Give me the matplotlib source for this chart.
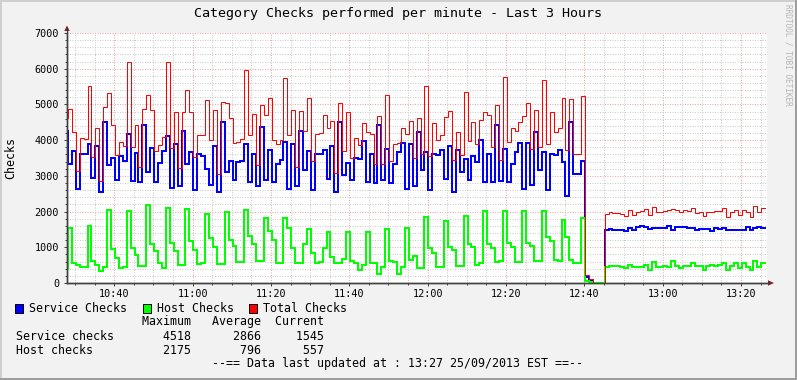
import matplotlib
matplotlib.use("Agg")
import matplotlib.pyplot as plt
from matplotlib.patches import Rectangle, Polygon
import numpy as np

# ---------------- data (one value per minute) ----------------
service_checks = [
    4247, 3332, 3687, 2632, 3612, 3600, 3900, 2940, 3827, 2539,
    4518, 3295, 3500, 2893, 3547, 3407, 4172, 2865, 3640, 2819,
    4433, 3099, 3780, 2819, 3360, 3687, 4107, 2660, 3892, 2725,
    4265, 3332, 3659, 2613, 3612, 3565, 3201, 2740, 3845, 2539,
    4499, 3099, 3425, 2893, 3380, 3407, 3900, 2828, 3612, 2706,
    4360, 2893, 3733, 2828, 3332, 3440, 3939, 2632, 3901, 2725,
    4265, 3173, 3687, 2595, 3612, 3612, 3733, 2912, 3827, 2539,
    4508, 3030, 3360, 2893, 3500, 3470, 3985, 2828, 3612, 2800,
    4433, 2893, 3761, 2800, 3332, 3668, 3920, 2641, 3892, 2725,
    4228, 3173, 3668, 2613, 3612, 3593, 3733, 2921, 3827, 2539,
    3733, 3099, 3480, 2893, 3547, 3388, 4013, 2828, 3612, 2828,
    4433, 2847, 3761, 2828, 3332, 3668, 3920, 2641, 3920, 2735,
    4228, 3173, 3659, 2613, 3612, 3575, 3733, 3400, 2433, 4500,
    3040, 3060, 3407, 170, 90, 0, 0, 0,
    1493, 1520, 1493, 1493, 1493, 1447, 1540, 1475, 1560, 1587,
    1568, 1520, 1540, 1540, 1540, 1540, 1605, 1475, 1568, 1568,
    1568, 1540, 1540, 1493, 1512, 1512, 1512, 1465, 1540, 1512,
    1540, 1493, 1493, 1493, 1493, 1493, 1560, 1493, 1540, 1560,
    1545,
]
host_checks = [
    400, 1550, 560, 513, 440, 440, 1605, 607, 513, 345,
    440, 2053, 950, 700, 420, 440, 2025, 980, 793, 467,
    467, 2175, 1092, 905, 560, 420, 2100, 1120, 905, 513,
    513, 2072, 1167, 933, 541, 560, 1941, 1260, 1008, 541,
    541, 1979, 1213, 1027, 578, 578, 2053, 1325, 1092, 607,
    607, 1820, 1447, 1213, 560, 560, 1820, 1540, 980, 560,
    560, 1092, 1512, 840, 560, 600, 980, 1428, 719, 560,
    560, 672, 1428, 607, 560, 373, 495, 1419, 560, 560,
    252, 448, 1521, 625, 588, 252, 448, 1540, 653, 765,
    420, 420, 1848, 980, 840, 439, 439, 1745, 999, 933,
    485, 485, 1885, 1092, 999, 513, 560, 2007, 1092, 980,
    578, 607, 2025, 1120, 1008, 578, 578, 2025, 1120, 1027,
    625, 625, 2025, 1279, 1167, 653, 607, 1773, 1300, 650,
    560, 560, 1820, 60, 30, 0, 0, 0,
    448, 467, 467, 467, 448, 420, 495, 439, 439, 439,
    495, 373, 578, 448, 448, 485, 439, 607, 467, 420,
    485, 485, 560, 467, 485, 355, 485, 513, 485, 513,
    560, 355, 485, 560, 420, 560, 439, 355, 625, 439,
    557,
]
total_checks = [
    4620, 4872, 4230, 3127, 4060, 4030, 5505, 3520, 4340, 2850,
    4930, 5320, 4420, 3580, 3940, 3830, 6180, 3820, 4410, 3260,
    4880, 5250, 4850, 3690, 3870, 4080, 6190, 3780, 4790, 3230,
    4778, 5410, 4800, 3530, 4140, 4150, 5130, 4000, 4830, 3060,
    5060, 5050, 4630, 3910, 3960, 4020, 5950, 4140, 4720, 3313,
    4970, 4690, 5180, 4010, 3880, 4000, 5740, 4150, 4850, 3260,
    4825, 4265, 5180, 3430, 4160, 4200, 4700, 4340, 4540, 3070,
    5050, 3700, 4790, 3510, 4070, 3850, 4480, 4220, 4172, 3340,
    4680, 3341, 5250, 3410, 3900, 3920, 4340, 4181, 4545, 3490,
    4620, 3620, 5516, 3570, 4470, 4010, 4150, 4650, 4820, 3440,
    4218, 3584, 5340, 3980, 4520, 3900, 4573, 4800, 4704, 3808,
    4980, 3454, 5770, 3948, 4340, 4246, 4498, 4666, 5040, 3762,
    4853, 3798, 5684, 3892, 4779, 4228, 4340, 5173, 3733, 5150,
    3600, 3620, 5227, 230, 120, 0, 0, 0,
    1941, 1987, 1960, 1960, 1941, 1867, 2035, 1914, 1999, 2026,
    2063, 1893, 2118, 1988, 1988, 2025, 2044, 2082, 2035, 1988,
    2053, 2025, 2100, 1960, 1997, 1867, 1997, 1978, 2025, 2025,
    2100, 1848, 1978, 2053, 1913, 2053, 1999, 1848, 2165, 1999,
    2102,
]

x_tick_labels = ["10:40", "11:00", "11:20", "11:40", "12:00",
                 "12:20", "12:40", "13:00", "13:20"]
y_tick_values = [0, 1000, 2000, 3000, 4000, 5000, 6000, 7000]
y_tick_labels = ["0", "1000", "2000", "3000", "4000", "5000", "6000", "7000"]

title = "Category Checks performed per minute - Last 3 Hours"
y_label = "Checks"
legend_names = ["Service Checks", "Host Checks", "Total Checks"]
stat_headers = ["Maximum", "Average", "Current"]
stat_rows = ["Service checks", "Host checks"]
service_stats = [4518, 2866, 1545]
host_stats = [2175, 796, 557]
footer = "--== Data last updated at : 13:27 25/09/2013 EST ==--"
watermark = "RRDTOOL / TOBI OETIKER"

# ---------------- style ----------------
plt.rcParams['font.family'] = ['DejaVu Sans Mono']
BG = "#F2F2F2"
C_SERVICE, C_HOST, C_TOTAL = "#0000FF", "#00FF00", "#FF0000"
GRID_C = "#CBCBCB"
MGRID_C = "#EDA5A5"
AXIS_C = "#404040"
ARROW_C = "#801F1F"

W, H, DPI = 797, 380, 100
fig = plt.figure(figsize=(W / DPI, H / DPI), dpi=DPI, facecolor=BG)

L, R, T, B = 67, 767, 33, 283
ax = fig.add_axes([L / W, 1 - B / H, (R - L) / W, (B - T) / H])
ax.set_facecolor("white")

# time axis in minutes after 10:00
t_first = 27 + 11 / 60          # start of first sample step
x_start = 27 + 56 / 60          # left edge of graph
x_end = x_start + 178.7         # right edge of graph
n = len(service_checks)
t = t_first + np.arange(n + 1)


def steps(v):
    return list(v) + [v[-1]]


px = 0.72  # one pixel in points
ax.plot(t, steps(service_checks), drawstyle="steps-post", color=C_SERVICE,
        lw=2 * px, solid_joinstyle="miter", zorder=3)
ax.plot(t, steps(host_checks), drawstyle="steps-post", color=C_HOST,
        lw=2 * px, solid_joinstyle="miter", zorder=3)
ax.plot(t, steps(total_checks), drawstyle="steps-post", color=C_TOTAL,
        lw=1 * px, solid_joinstyle="miter", zorder=4)

ax.set_xlim(x_start, x_end)
ax.set_ylim(0, 7000)

major_x = [int(s[:2]) * 60 + int(s[3:]) - 600 for s in x_tick_labels]
minor_x = np.arange(30, x_end, 5)
ax.set_xticks(major_x)
ax.set_xticklabels(x_tick_labels)
ax.set_xticks(minor_x, minor=True)
ax.set_yticks(y_tick_values)
ax.set_yticklabels(y_tick_labels)
ax.set_yticks(np.arange(0, 7001, 200), minor=True)

ax.set_axisbelow(True)
ax.grid(which="minor", color=GRID_C, linestyle=(0, (1, 1.5)), linewidth=px)
ax.grid(which="major", color=MGRID_C, linestyle=(0, (1, 1.5)), linewidth=px)

for s in ["top", "right"]:
    ax.spines[s].set_visible(False)
for s in ["left", "bottom"]:
    ax.spines[s].set_color(AXIS_C)
    ax.spines[s].set_linewidth(1.0)

ax.tick_params(which="major", length=2.2, width=px, color=AXIS_C,
               labelsize=7.3, direction="out")
ax.tick_params(which="minor", length=1.5, width=px, color=AXIS_C,
               direction="out")
ax.tick_params(axis="y", pad=3.5)
ax.tick_params(axis="x", pad=2.0)

# ---------------- overlay in pixel coordinates ----------------
ov = fig.add_axes([0, 0, 1, 1], zorder=10)
ov.set_xlim(0, W)
ov.set_ylim(H, 0)
ov.axis("off")
ov.patch.set_alpha(0)

# 3D shade border
ov.add_patch(Rectangle((0, 0), W, 2, color="#CFCFCF", lw=0))
ov.add_patch(Rectangle((0, 0), 2, H, color="#CFCFCF", lw=0))
ov.add_patch(Rectangle((0, H - 2), W, 2, color="#9E9E9E", lw=0))
ov.add_patch(Rectangle((W - 2, 0), 2, H, color="#9E9E9E", lw=0))

# axis extensions and arrows
ov.plot([L, L], [B, 30], color=AXIS_C, lw=1.0)
ov.plot([L, 769], [B, B], color=AXIS_C, lw=1.0)
ov.add_patch(Polygon([(64.3, 31), (69.7, 31), (67, 25.5)], closed=True,
                     color=ARROW_C, lw=0))
ov.add_patch(Polygon([(768, 280.3), (768, 285.7), (774, 283)], closed=True,
                     color=ARROW_C, lw=0))

ov.text(398, 14, title, ha="center", va="center", fontsize=9.6, color="black")
ov.text(11, 158, y_label, ha="center", va="center", rotation=90,
        fontsize=8.4, color="black")
ov.text(788, 4, watermark, ha="center", va="top", rotation=-90,
        fontsize=5.6, color="#B4B4B4")

# legend
leg_y = 308
box_x = [15, 143, 249]
txt_x = [29, 157, 263]
for bx, tx, name, c in zip(box_x, txt_x, legend_names,
                           [C_SERVICE, C_HOST, C_TOTAL]):
    ov.add_patch(Rectangle((bx, leg_y - 4.5), 8, 9, facecolor=c,
                           edgecolor="black", lw=0.7))
    ov.text(tx, leg_y, name, ha="left", va="center", fontsize=8.4)

header = " " * 18 + stat_headers[0] + "   " + stat_headers[1] + "  " + stat_headers[2]
row1 = (stat_rows[0].ljust(21) + str(service_stats[0]).rjust(4)
        + str(service_stats[1]).rjust(10) + str(service_stats[2]).rjust(9))
row2 = (stat_rows[1].ljust(21) + str(host_stats[0]).rjust(4)
        + str(host_stats[1]).rjust(10) + str(host_stats[2]).rjust(9))
ov.text(16, 322, header, ha="left", va="center", fontsize=8.4)
ov.text(16, 336, row1, ha="left", va="center", fontsize=8.4)
ov.text(16, 350, row2, ha="left", va="center", fontsize=8.4)
ov.text(398, 364, footer, ha="center", va="center", fontsize=8.4)

fig.savefig("out.png", dpi=DPI, facecolor=BG)
